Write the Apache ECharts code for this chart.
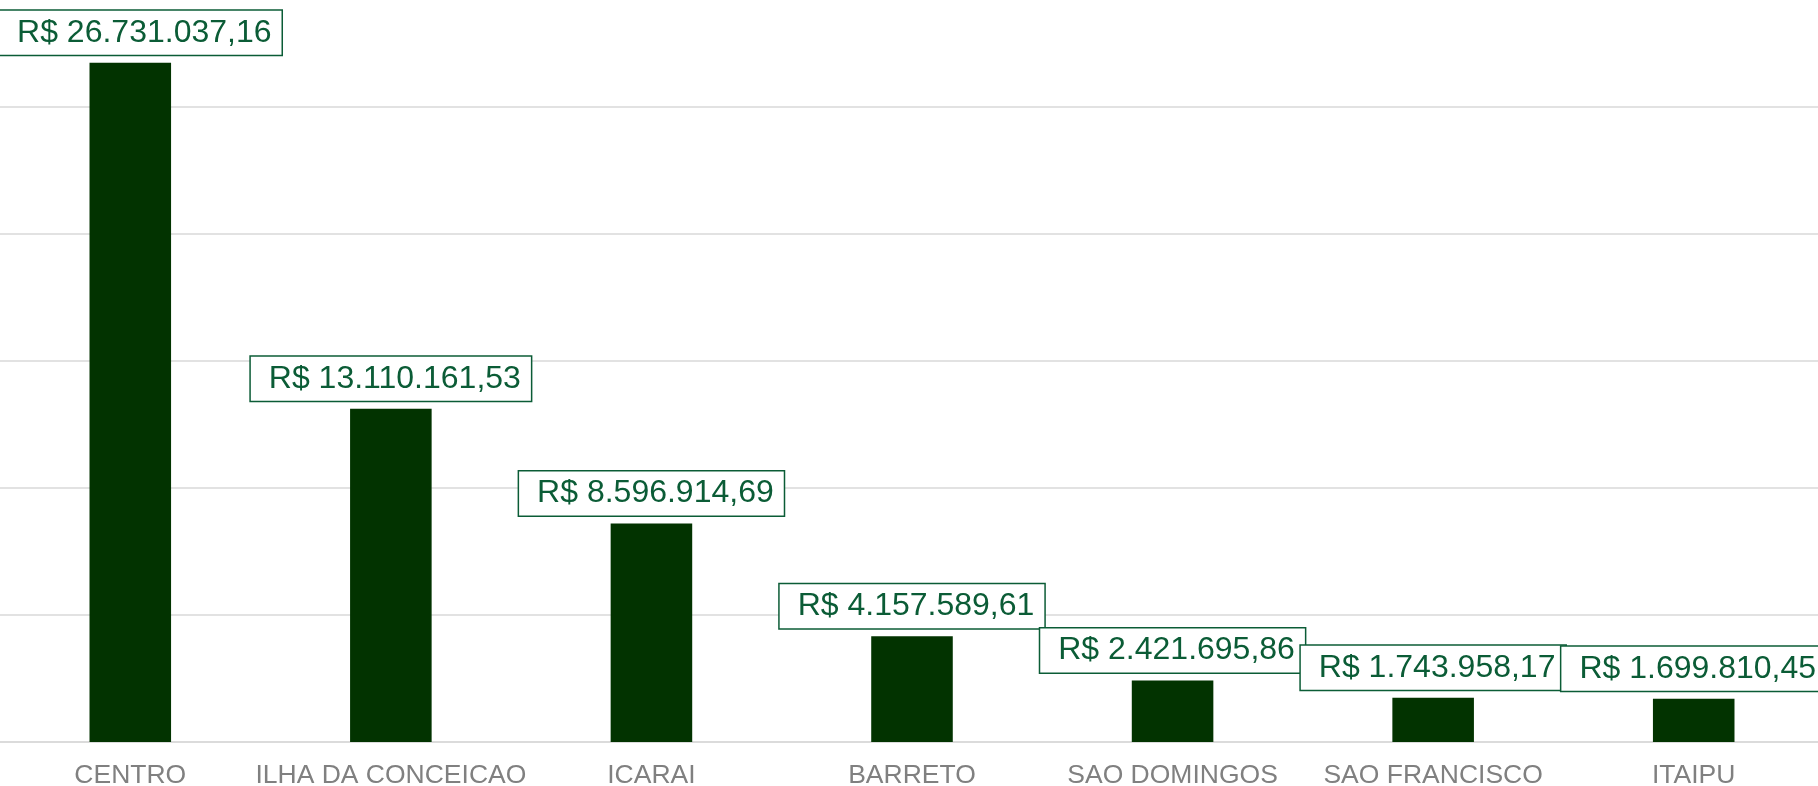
<!DOCTYPE html>
<html>
<head>
<meta charset="utf-8">
<script src="https://cdn.jsdelivr.net/npm/echarts@6/dist/echarts.min.js"></script>
<style>
  html, body { margin: 0; padding: 0; background: #fff; }
  #chart { width: 1818px; height: 786px; }
</style>
</head>
<body>
<div id="chart"></div>
<script>
const bairros = ["CENTRO", "ILHA DA CONCEICAO", "ICARAI", "BARRETO", "SAO DOMINGOS", "SAO FRANCISCO", "ITAIPU"];
const valores = [26731037.16, 13110161.53, 8596914.69, 4157589.61, 2421695.86, 1743958.17, 1699810.45];

const BAR_COLOR = "#023300";
const LABEL_COLOR = "#0b5c36";

// formata no padrão brasileiro: R$ 1.234.567,89
const formatBRL = (v) => {
  const [inteiro, dec] = v.toFixed(2).split(".");
  return "R$ " + inteiro.replace(/\B(?=(\d{3})+(?!\d))/g, ".") + "," + dec;
};

const chart = echarts.init(document.getElementById("chart"));

const option = {
  animation: false,
  grid: { left: 0, width: 1824, top: 0, bottom: 44, outerBoundsMode: "none", containLabel: false },
  xAxis: {
    type: "category",
    data: bairros,
    axisLine: { show: true, lineStyle: { color: "#d9d9d9", width: 1.5 } },
    axisTick: { show: false },
    axisLabel: {
      color: "#808080",
      fontFamily: "Liberation Sans",
      fontSize: 26.5,
      margin: 20,
      interval: 0,
    },
  },
  yAxis: {
    type: "value",
    min: 0,
    max: 29.2e6,
    interval: 5e6,
    axisLabel: { show: false },
    axisLine: { show: false },
    axisTick: { show: false },
    splitLine: { show: true, showMaxLine: false, lineStyle: { color: "#d9d9d9", width: 1.5 } },
  },
  series: [
    {
      type: "bar",
      barWidth: "31.3%",
      itemStyle: { color: BAR_COLOR },
      data: valores.map((v, i) => (i === 0 ? { value: v, label: { offset: [10, 0] } } : v)),
      label: {
        show: true,
        position: "top",
        distance: 8,
        formatter: (p) => formatBRL(p.value),
        color: LABEL_COLOR,
        fontFamily: "Liberation Sans",
        fontSize: 32,
        backgroundColor: "#fff",
        borderColor: LABEL_COLOR,
        borderWidth: 1.5,
        padding: [6, 10, 6, 18],
      },
    },
  ],
};

chart.setOption(option);
</script>
</body>
</html>
